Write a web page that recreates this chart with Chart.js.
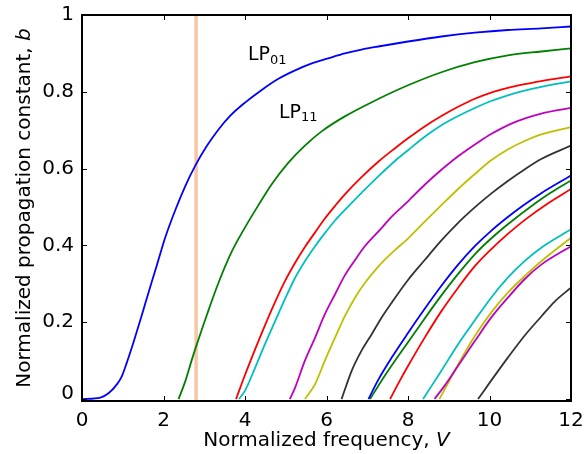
<!DOCTYPE html>
<html>
<head>
<meta charset="utf-8">
<script src="https://cdn.jsdelivr.net/npm/chart.js@4.4.0/dist/chart.umd.min.js"></script>
<style>
  html, body { margin: 0; padding: 0; background: #fff; }
</style>
</head>
<body>
<canvas id="modeChart" width="585" height="454"></canvas>
<script>
// LP mode curves: [V, b] pairs
const lp01 = [[0,0],[0.45,0.004],[0.65,0.015],[0.86,0.039],[0.98,0.06],[1.1,0.095],[1.27,0.15],[1.43,0.205],[1.55,0.248],[1.76,0.322],[1.88,0.364],[2.04,0.42],[2.3,0.495],[2.54,0.556],[2.78,0.608],[3.07,0.66],[3.35,0.702],[3.64,0.738],[4.0,0.772],[4.41,0.805],[4.82,0.834],[5.23,0.856],[5.64,0.874],[6.04,0.887],[6.45,0.9],[6.86,0.91],[7.27,0.918],[8.0,0.931],[8.82,0.944],[9.64,0.954],[10.45,0.961],[11.27,0.965],[12,0.97]];
const lp11 = [[2.37,0],[2.54,0.048],[2.7,0.104],[2.82,0.143],[3.07,0.221],[3.35,0.303],[3.68,0.385],[3.99,0.445],[4.33,0.505],[4.66,0.56],[5.06,0.615],[5.47,0.66],[5.88,0.697],[6.45,0.736],[7.11,0.773],[8.0,0.817],[8.82,0.851],[9.64,0.877],[10.45,0.895],[11.27,0.905],[12,0.913]];
const lp21 = [[3.78,0],[3.99,0.06],[4.25,0.13],[4.49,0.192],[4.74,0.253],[4.98,0.307],[5.23,0.355],[5.47,0.396],[5.72,0.434],[5.96,0.47],[6.21,0.503],[6.45,0.533],[6.86,0.578],[7.27,0.618],[7.68,0.653],[8.0,0.679],[8.41,0.71],[8.82,0.737],[9.23,0.761],[9.64,0.782],[10.04,0.798],[10.45,0.81],[10.86,0.82],[11.27,0.828],[12,0.84]];
const lp02 = [[3.85,0],[4.0,0.022],[4.25,0.082],[4.49,0.143],[4.74,0.203],[4.98,0.26],[5.23,0.316],[5.47,0.359],[5.72,0.398],[5.96,0.432],[6.21,0.465],[6.5,0.498],[6.86,0.537],[7.27,0.58],[7.68,0.62],[8.0,0.648],[8.41,0.683],[8.82,0.713],[9.23,0.737],[9.64,0.758],[10.04,0.776],[10.45,0.791],[10.86,0.803],[11.27,0.813],[12,0.827]];
const lp31 = [[5.1,0],[5.23,0.03],[5.47,0.1],[5.72,0.16],[5.96,0.221],[6.21,0.273],[6.45,0.322],[6.7,0.362],[6.94,0.398],[7.35,0.445],[7.6,0.475],[8.0,0.515],[8.41,0.558],[8.7,0.586],[9.23,0.632],[9.77,0.672],[10.04,0.69],[10.58,0.719],[11.27,0.743],[12,0.758]];
const lp12 = [[5.47,0],[5.72,0.039],[5.96,0.1],[6.21,0.16],[6.45,0.216],[6.7,0.264],[6.94,0.302],[7.27,0.345],[7.68,0.388],[8.0,0.418],[8.41,0.462],[8.82,0.505],[9.23,0.547],[9.64,0.586],[10.04,0.622],[10.45,0.65],[10.86,0.672],[11.27,0.689],[12,0.708]];
const lp41 = [[6.37,0],[6.62,0.074],[6.86,0.126],[7.11,0.169],[7.35,0.212],[7.6,0.251],[8.0,0.31],[8.41,0.362],[8.82,0.413],[9.23,0.459],[9.68,0.503],[10.04,0.535],[10.45,0.568],[10.86,0.598],[11.27,0.625],[12,0.66]];
const lp22 = [[7.03,0],[7.27,0.05],[7.6,0.108],[8.0,0.172],[8.41,0.235],[8.82,0.295],[9.23,0.35],[9.64,0.398],[10.04,0.438],[10.45,0.474],[10.8,0.502],[11.27,0.536],[12,0.582]];
const lp03 = [[7.07,0],[7.35,0.048],[7.68,0.1],[8.0,0.148],[8.41,0.21],[8.82,0.27],[9.23,0.326],[9.64,0.377],[10.04,0.418],[10.45,0.455],[11.1,0.508],[11.5,0.537],[12,0.569]];
const lp51 = [[7.56,0],[7.8,0.048],[8.0,0.086],[8.41,0.16],[8.82,0.229],[9.23,0.29],[9.64,0.346],[10.04,0.39],[10.45,0.43],[10.86,0.466],[11.44,0.51],[12,0.547]];
const lp32 = [[8.37,0],[8.82,0.074],[9.23,0.143],[9.64,0.205],[10.04,0.264],[10.45,0.316],[10.86,0.359],[11.27,0.394],[12,0.442]];
const lp13 = [[8.65,0],[8.9,0.035],[9.23,0.087],[9.64,0.151],[10.04,0.212],[10.45,0.264],[10.86,0.312],[11.27,0.35],[12,0.398]];
const lp61 = [[8.77,0],[8.95,0.035],[9.23,0.09],[9.64,0.164],[10.04,0.225],[10.45,0.277],[10.86,0.32],[11.27,0.359],[12,0.42]];
const lp42 = [[9.72,0],[10.04,0.048],[10.45,0.108],[10.86,0.165],[11.27,0.215],[11.6,0.254],[12,0.29]];

const modes = [lp01, lp11, lp21, lp02, lp31, lp12, lp41, lp22, lp03, lp51, lp32, lp13, lp61, lp42];
const modeColors = ['#0000ff', '#008000', '#ff0000', '#00bfbf', '#bf00bf', '#bfbf00', '#333333'];

const markerV = 2.8;   // vertical line
const xTicks = [0, 2, 4, 6, 8, 10, 12];
const xTickLabels = ['0', '2', '4', '6', '8', '10', '12'];
const yTicks = [0, 0.2, 0.4, 0.6, 0.8, 1];
const yTickLabels = ['0', '0.2', '0.4', '0.6', '0.8', '1'];

const FONT = '"DejaVu Sans", Verdana, sans-serif';

const datasets = modes.map((m, i) => ({
    data: m.map(p => ({ x: p[0], y: p[1] })),
    borderColor: modeColors[i % modeColors.length],
    borderWidth: 1.8,
    pointRadius: 0,
    cubicInterpolationMode: 'monotone',
    fill: false
}));
// orange line last so it is drawn underneath
datasets.push({
    data: [{ x: markerV, y: -0.01 }, { x: markerV, y: 1 }],
    borderColor: '#f7c6a3',
    borderWidth: 3.5,
    pointRadius: 0,
    tension: 0,
    fill: false
});

// keep the plot box fixed: drop the extra room Chart.js keeps for edge labels
const noEdgePadding = s => {
    s.paddingLeft = 0; s.paddingRight = 0;
    s.paddingTop = 0; s.paddingBottom = 0;
};

const framePlugin = {
    id: 'frame',
    beforeDraw(chart) {
        // the "0" label sits a little above its tick in the original
        const y = chart.scales.y;
        const items = y.getLabelItems();
        if (items.length) items[0].options.translation[1] = y.getPixelForValue(0) - 5;
    },
    afterDatasetsDraw(chart) {
        const { ctx, chartArea: a, scales: { x, y } } = chart;
        ctx.save();
        ctx.strokeStyle = '#000';
        ctx.lineWidth = 1;
        ctx.beginPath();
        xTicks.forEach(v => {
            const px = Math.round(x.getPixelForValue(v)) + 0.5;
            ctx.moveTo(px, a.bottom); ctx.lineTo(px, a.bottom - 5);
            ctx.moveTo(px, a.top); ctx.lineTo(px, a.top + 5);
        });
        yTicks.forEach(v => {
            const py = Math.round(y.getPixelForValue(v)) + 0.5;
            ctx.moveTo(a.left, py); ctx.lineTo(a.left + 5, py);
            ctx.moveTo(a.right, py); ctx.lineTo(a.right - 5, py);
        });
        ctx.stroke();
        ctx.lineWidth = 2;
        ctx.strokeRect(a.left, a.top, a.right - a.left, a.bottom - a.top);
        ctx.restore();
    },
    afterDraw(chart) {
        const { ctx, chartArea: a } = chart;
        ctx.save();
        ctx.fillStyle = '#000';
        ctx.textBaseline = 'alphabetic';

        // x axis title
        const xt1 = 'Normalized frequency, ', xt2 = 'V';
        ctx.font = '20px ' + FONT;
        const w1 = ctx.measureText(xt1).width;
        ctx.font = 'italic 20px ' + FONT;
        const w2 = ctx.measureText(xt2).width;
        let sx = (a.left + a.right) / 2 - (w1 + w2) / 2;
        ctx.textAlign = 'left';
        ctx.font = '20px ' + FONT;
        ctx.fillText(xt1, sx, 446);
        ctx.font = 'italic 20px ' + FONT;
        ctx.fillText(xt2, sx + w1, 446);

        // y axis title
        const yt1 = 'Normalized propagation constant, ', yt2 = 'b';
        ctx.font = '20px ' + FONT;
        const h1 = ctx.measureText(yt1).width;
        ctx.font = 'italic 20px ' + FONT;
        const h2 = ctx.measureText(yt2).width;
        ctx.translate(30, (a.top + a.bottom) / 2);
        ctx.rotate(-Math.PI / 2);
        const sy = -(h1 + h2) / 2;
        ctx.font = '20px ' + FONT;
        ctx.fillText(yt1, sy, 0);
        ctx.font = 'italic 20px ' + FONT;
        ctx.fillText(yt2, sy + h1, 0);
        ctx.restore();

        // mode labels
        ctx.save();
        ctx.fillStyle = '#000';
        const drawLP = (sub, lx, ly) => {
            ctx.font = '19px ' + FONT;
            ctx.fillText('LP', lx, ly);
            const lw = ctx.measureText('LP').width;
            ctx.font = '13px ' + FONT;
            ctx.fillText(sub, lx + lw, ly + 3.5);
        };
        drawLP('01', 248, 60);
        drawLP('11', 279, 117.5);
        ctx.restore();
    }
};

const ctx = document.getElementById('modeChart').getContext('2d');
new Chart(ctx, {
    type: 'line',
    data: { datasets: datasets },
    options: {
        responsive: false,
        animation: false,
        layout: { padding: { top: 15, right: 14, left: 0, bottom: 0 } },
        plugins: { legend: { display: false }, tooltip: { enabled: false } },
        scales: {
            x: {
                type: 'linear',
                min: 0,
                max: 12,
                grid: { display: false, drawTicks: false },
                border: { display: false },
                afterBuildTicks: s => { s.ticks = xTicks.map(v => ({ value: v })); },
                afterFit: s => { s.height = 53; noEdgePadding(s); },
                ticks: {
                    padding: 8,
                    maxRotation: 0,
                    color: '#000',
                    font: { family: FONT, size: 20 },
                    callback: (v, i) => xTickLabels[i]
                }
            },
            y: {
                type: 'linear',
                min: -0.005,
                max: 1,
                grid: { display: false, drawTicks: false },
                border: { display: false },
                afterBuildTicks: s => { s.ticks = yTicks.map(v => ({ value: v })); },
                afterFit: s => { s.width = 82; noEdgePadding(s); },
                ticks: {
                    padding: 8,
                    color: '#000',
                    font: { family: FONT, size: 20 },
                    callback: (v, i) => yTickLabels[i]
                }
            }
        }
    },
    plugins: [framePlugin]
});
</script>
</body>
</html>
